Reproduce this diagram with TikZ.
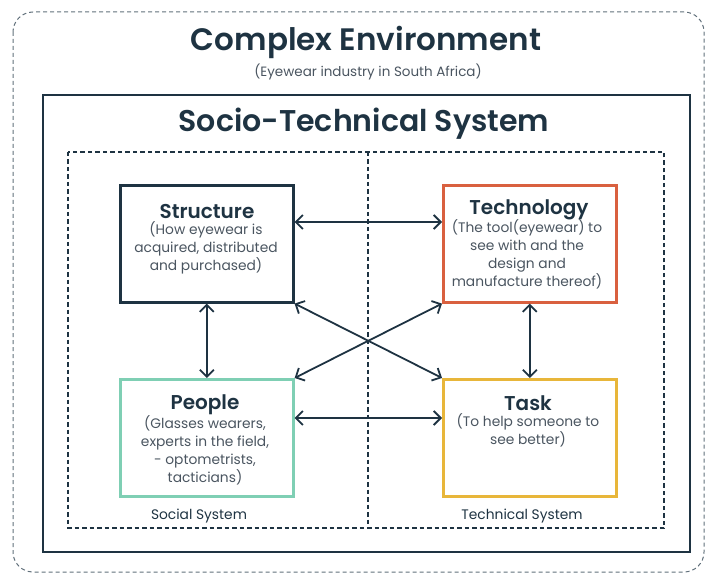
\documentclass[tikz,border=0pt]{standalone}
\usepackage{fontspec}
\setmainfont{Poppins}[BoldFont={Poppins SemiBold}]
\usetikzlibrary{arrows.meta}
\definecolor{navy}{HTML}{1E3342}
\definecolor{subgray}{HTML}{4A5560}
\definecolor{techred}{HTML}{D9603F}
\definecolor{mint}{HTML}{7FCFB4}
\definecolor{gold}{HTML}{E8B63A}
\tikzset{
  box/.style={draw, line width=2.6pt, minimum width=173pt, minimum height=117pt, inner sep=0pt, anchor=north west},
  conn/.style={draw=navy, line width=1.8pt, {Straight Barb[length=7pt,width=14pt]}-{Straight Barb[length=7pt,width=14pt]}},
  ttl/.style={text=navy, font=\bfseries\fontsize{20}{22}\selectfont},
  sub/.style={text=subgray, font=\fontsize{13.8}{18.3}\selectfont, align=center, inner sep=0pt},
  syslab/.style={text=navy, font=\fontsize{13.8}{15}\selectfont}
}
\begin{document}
\begin{tikzpicture}[x=1pt,y=-1pt]
\useasboundingbox (0,0) rectangle (709,577);
% outer dashed
\draw[navy!70, dash pattern=on 4pt off 3pt, line width=1pt, rounded corners=20pt] (13,12) rectangle (704,572);
\node[text=navy, font=\bfseries\fontsize{31}{35}\selectfont] (ce) at (366,42) {Complex Environment};
\node[text=subgray, font=\fontsize{13.5}{15}\selectfont] (cesub) at (368,72) {(Eyewear industry in South Africa)};
% solid inner
\draw[navy, line width=1.4pt] (43,95) rectangle (690,552);
\node[text=navy, font=\bfseries\fontsize{30}{34}\selectfont] (sts) at (364,124) {Socio-Technical System};
% dashed systems
\draw[navy, dash pattern=on 4.5pt off 3pt, line width=1.3pt] (68,152) rectangle (664,528);
\draw[navy, dash pattern=on 4.5pt off 3pt, line width=1.3pt] (368,152) -- (368,528);
\node[syslab] (soc) at (199,516) {Social System};
\node[syslab] (tec) at (522,516) {Technical System};
% boxes
\node[box, draw=navy] (str) at (119,184) {};
\node[box, draw=techred] (tech) at (442,184) {};
\node[box, draw=mint] (peo) at (119,378) {};
\node[box, draw=gold] (task) at (442,378) {};
% texts
\node[ttl] (strt) at (207,212) {Structure};
\node[sub, anchor=north] (strs) at (206,221) {(How eyewear is\\acquired, distributed\\and purchased)};
\node[ttl] (techt) at (529,210) {Technology};
\node[sub, anchor=north] (techs) at (527,219) {(The tool(eyewear) to\\see with and the\\design and\\manufacture thereof)};
\node[ttl] (peot) at (205,405) {People};
\node[sub, anchor=north] (peos) at (205,415) {(Glasses wearers,\\experts in the field,\\- optometrists,\\tacticians)};
\node[ttl] (taskt) at (528,403) {Task};
\node[sub, anchor=north] (tasks) at (528,413) {(To help someone to\\see better)};
% connectors
\draw[conn] ([yshift=-38pt]str.north east) -- ([yshift=-38pt]tech.north west);
\draw[conn] ([yshift=-40pt]peo.north east) -- ([yshift=-40pt]task.north west);
\draw[conn] (str.south) -- (peo.north);
\draw[conn] (tech.south) -- (task.north);
\draw[conn] (str.south east) -- (task.north west);
\draw[conn] (peo.north east) -- (tech.south west);
\end{tikzpicture}
\end{document}
